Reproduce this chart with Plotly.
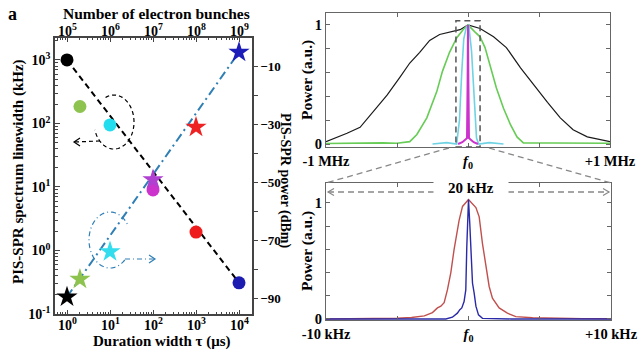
import numpy as np
import plotly.graph_objects as go

# ---------------- data: left panel ----------------
tau_us = [1, 2, 10, 100, 1000, 10000]
linewidth_khz = [1000, 185, 95, 9, 1.95, 0.31]
circle_colors = ["#000000", "#8DC34E", "#22DDEE", "#CC33CC", "#EE1C1C", "#1C1CB0"]

bunches = [1e5, 2e5, 1e6, 1e7, 1e8, 1e9]
power_dbm = [-89.5, -83.4, -73.9, -49.0, -30.9, -5.0]
star_colors = ["#000000", "#8DC34E", "#33DDEE", "#B040D0", "#EE2222", "#1C1CB8"]

fit_tau_us = [1, 10000]
fit_linewidth_khz = [1000, 0.31]
fit_bunches = [1e5, 1e9]
fit_power_dbm = [-89.5, -5.0]

tau_ticks = [1, 10, 100, 1000, 10000]
tau_ticktext = ["10<sup>0</sup>", "10<sup>1</sup>", "10<sup>2</sup>", "10<sup>3</sup>", "10<sup>4</sup>"]
bunch_ticks = [1e5, 1e6, 1e7, 1e8, 1e9]
bunch_ticktext = ["10<sup>5</sup>", "10<sup>6</sup>", "10<sup>7</sup>", "10<sup>8</sup>", "10<sup>9</sup>"]
lw_ticks = [0.1, 1, 10, 100, 1000]
lw_ticktext = ["10<sup>-1</sup>", "10<sup>0</sup>", "10<sup>1</sup>", "10<sup>2</sup>", "10<sup>3</sup>"]
dbm_ticks = [-90, -70, -50, -30, -10]
dbm_minor = [-80, -60, -40, -20]

# ---------------- data: top-right spectra (MHz) ----------------
f_black = [-1.0, -0.93, -0.852, -0.76, -0.69, -0.57, -0.48, -0.41, -0.34, -0.27, -0.20, -0.13, -0.056, 0.0,
           0.085, 0.18, 0.27, 0.37, 0.46, 0.56, 0.65, 0.74, 0.84, 0.98, 1.0]
p_black = [0.02, 0.05, 0.09, 0.14, 0.24, 0.41, 0.56, 0.68, 0.77, 0.87, 0.92, 0.94, 0.96, 1.0,
           0.97, 0.90, 0.81, 0.64, 0.50, 0.35, 0.22, 0.12, 0.06, 0.02, 0.02]
f_green = [-1.0, -0.8, -0.6, -0.5, -0.41, -0.36, -0.29, -0.22, -0.18, -0.13, -0.08, -0.035, 0.0,
           0.05, 0.085, 0.12, 0.155, 0.20, 0.25, 0.30, 0.345, 0.39, 0.6, 0.8, 1.0]
p_green = [0.005, 0.008, 0.01, 0.006, 0.02, 0.08, 0.22, 0.44, 0.61, 0.77, 0.89, 0.96, 1.0,
           0.94, 0.90, 0.81, 0.66, 0.47, 0.30, 0.16, 0.06, 0.01, 0.008, 0.01, 0.006]
f_cyan = [-0.25, -0.15, -0.08, -0.06, -0.045, -0.03, -0.012, 0.005, 0.025, 0.045, 0.06, 0.075, 0.15, 0.25]
p_cyan = [0.0, 0.012, 0.0, 0.2, 0.58, 0.88, 0.98, 1.0, 0.78, 0.33, 0.05, 0.0, 0.012, 0.0]
f_magenta = [-0.07, -0.04, -0.02, -0.007, -0.003, 0.0, 0.003, 0.007, 0.02, 0.04, 0.07]
p_magenta = [0.0, 0.015, 0.035, 0.05, 0.5, 1.0, 0.5, 0.05, 0.035, 0.015, 0.0]

# ---------------- data: bottom-right spectra (kHz) ----------------
f_red = [-10, -7, -5, -4, -3.1, -2.53, -2.18, -1.94, -1.71, -1.48, -1.24, -1.01, -0.85, -0.66, -0.42, 0.0,
         0.52, 0.75, 0.98, 1.22, 1.45, 1.68, 2.15, 2.73, 3.32, 4.5, 6, 8, 10]
p_red = [0.0, 0.002, 0.006, 0.012, 0.026, 0.055, 0.095, 0.11, 0.14, 0.25, 0.40, 0.60, 0.72, 0.85, 0.97, 1.03,
         0.96, 0.88, 0.65, 0.45, 0.28, 0.18, 0.095, 0.05, 0.02, 0.01, 0.005, 0.003, 0.002]
f_blue = [-10, -3, -1.59, -1.13, -0.78, -0.61, -0.47, -0.31, -0.19, -0.12, 0.0, 0.09, 0.16, 0.28, 0.40, 0.52,
          0.70, 0.98, 3, 10]
p_blue = [0.0, 0.0, 0.0, 0.015, 0.05, 0.08, 0.095, 0.15, 0.25, 0.62, 1.03, 0.82, 0.62, 0.31, 0.22, 0.11,
          0.035, 0.005, 0.0, 0.0]

mhz_ticks = [-1, 0, 1]
mhz_ticktext = ["-1 MHz", "<i>f</i><sub>0</sub>", "+1 MHz"]
khz_ticks = [-10, 0, 10]
khz_ticktext = ["-10 kHz", "<i>f</i><sub>0</sub>", "+10 kHz"]
pow_ticks = [0, 1]

W, H = 639, 352
def px(x):
    return x / W
def py(y):
    return 1 - y / H

FONT = "Liberation Serif"
AX = "#444444"
AX2 = "#666666"

fig = go.Figure()

# left panel fits and markers
fig.add_trace(go.Scatter(x=fit_tau_us, y=fit_linewidth_khz, mode="lines",
                         line=dict(color="black", width=2, dash="6px,4px"),
                         xaxis="x", yaxis="y", showlegend=False, hoverinfo="skip"))
fig.add_trace(go.Scatter(x=tau_us, y=linewidth_khz, mode="markers",
                         marker=dict(symbol="circle", size=13, color=circle_colors, line=dict(width=0)),
                         xaxis="x", yaxis="y", showlegend=False))
fig.add_trace(go.Scatter(x=fit_bunches, y=fit_power_dbm, mode="lines",
                         line=dict(color="#2F7FB5", width=2, dash="9px,4px,2px,4px"),
                         xaxis="x2", yaxis="y2", showlegend=False, hoverinfo="skip"))
fig.add_trace(go.Scatter(x=bunches, y=power_dbm, mode="markers",
                         marker=dict(symbol="star", size=16, color=star_colors, line=dict(width=0)),
                         xaxis="x2", yaxis="y2", showlegend=False))

# top-right spectra
fig.add_trace(go.Scatter(x=f_black, y=p_black, mode="lines", line=dict(color="#1a1a1a", width=1.2),
                         xaxis="x3", yaxis="y3", showlegend=False))
fig.add_trace(go.Scatter(x=f_green, y=p_green, mode="lines", line=dict(color="#66CC55", width=1.6),
                         xaxis="x3", yaxis="y3", showlegend=False))
fig.add_trace(go.Scatter(x=f_cyan, y=p_cyan, mode="lines", line=dict(color="#6FD3E3", width=1.6),
                         xaxis="x3", yaxis="y3", showlegend=False))
fig.add_trace(go.Scatter(x=f_magenta, y=p_magenta, mode="lines", line=dict(color="#CC33CC", width=2.0),
                         xaxis="x3", yaxis="y3", showlegend=False))

# bottom-right spectra
fig.add_trace(go.Scatter(x=f_red, y=p_red, mode="lines", line=dict(color="#C0504D", width=1.4),
                         xaxis="x4", yaxis="y4", showlegend=False))
fig.add_trace(go.Scatter(x=f_blue, y=p_blue, mode="lines", line=dict(color="#2A2AA8", width=1.4),
                         xaxis="x4", yaxis="y4", showlegend=False))

tickfont = dict(family=FONT, size=14, color="black", weight="bold")
rtickfont = dict(family=FONT, size=14.5, color="black", weight="bold")

common = dict(showgrid=False, zeroline=False, automargin=False)
rminor_y = dict(tickvals=[0.2, 0.4, 0.6, 0.8], ticks="inside", ticklen=4, tickcolor=AX2, showgrid=False)

fig.update_layout(
    template="none",
    width=W, height=H, margin=dict(l=0, r=0, t=0, b=0, pad=0),
    paper_bgcolor="white", plot_bgcolor="white",
    font=dict(family=FONT, size=14, color="black", weight="bold"),
    xaxis=dict(type="log", domain=[px(55), px(252)], range=[-0.279, 4.302], anchor="y",
               tickvals=tau_ticks, ticks="inside", ticklen=4, tickcolor=AX, showticklabels=False,
               minor=dict(dtick="D1", ticks="inside", ticklen=2, tickcolor=AX, showgrid=False),
               showline=True, linecolor=AX, linewidth=1.5, **common),
    xaxis2=dict(type="log", overlaying="x", side="top", range=[4.721, 9.302], anchor="y",
                tickvals=bunch_ticks, ticks="inside", ticklen=4, tickcolor=AX, showticklabels=False,
                minor=dict(dtick="D1", ticks="inside", ticklen=2, tickcolor=AX, showgrid=False),
                showline=True, linecolor=AX, linewidth=1.5, **common),
    yaxis=dict(type="log", domain=[py(314), py(38)], range=[-1.0, 3.346], anchor="x",
               tickvals=lw_ticks, ticktext=lw_ticktext, ticks="inside", ticklen=5, tickcolor=AX,
               minor=dict(dtick="D1", ticks="inside", ticklen=3, tickcolor=AX, showgrid=False),
               showline=True, linecolor=AX, linewidth=1.5, tickfont=tickfont, **common),
    yaxis2=dict(overlaying="y", side="right", range=[-95.4, -0.1], anchor="x",
                tickvals=dbm_ticks, ticks="outside", ticklen=4, tickcolor=AX,
                minor=dict(tickvals=dbm_minor, ticks="outside", ticklen=4, tickcolor=AX, showgrid=False),
                showline=True, linecolor=AX, linewidth=1.5,
                tickfont=dict(family=FONT, size=13, color="black", weight="bold"), **common),
    xaxis3=dict(domain=[px(326), px(610)], range=[-1, 1], anchor="y3",
                tickvals=mhz_ticks, ticktext=mhz_ticktext,
                ticks="inside", ticklen=4, tickcolor=AX2, mirror="ticks",
                minor=dict(tickvals=[-0.5, 0.5], ticks="inside", ticklen=4, tickcolor=AX2, showgrid=False),
                showline=True, linecolor=AX2, linewidth=1.3, tickfont=rtickfont, **common),
    yaxis3=dict(domain=[py(147), py(13)], range=[-0.025, 1.1], anchor="x3",
                tickvals=pow_ticks, ticks="inside", ticklen=4, tickcolor=AX2, mirror="ticks",
                minor=rminor_y,
                showline=True, linecolor=AX2, linewidth=1.3, tickfont=rtickfont, **common),
    xaxis4=dict(domain=[px(326), px(611)], range=[-10, 10], anchor="y4",
                tickvals=khz_ticks, ticktext=khz_ticktext,
                ticks="inside", ticklen=4, tickcolor=AX2, mirror="ticks",
                minor=dict(tickvals=[-5, 5], ticks="inside", ticklen=4, tickcolor=AX2, showgrid=False),
                showline=True, linecolor=AX2, linewidth=1.3, tickfont=rtickfont, **common),
    yaxis4=dict(domain=[py(320), py(183)], range=[-0.009, 1.172], anchor="x4",
                tickvals=pow_ticks, ticks="inside", ticklen=4, tickcolor=AX2, mirror="ticks",
                minor=rminor_y,
                showline=True, linecolor=AX2, linewidth=1.3, tickfont=rtickfont, **common),
)

# ---------- decorations ----------
def ellipse_path(cx, cy, rx, ry, a0, a1, n=80):
    th = np.radians(np.linspace(a0, a1, n))
    xs = cx + rx * np.cos(th)
    ys = cy + ry * np.sin(th)
    return "M " + " L ".join(f"{px(x):.5f},{py(y):.5f}" for x, y in zip(xs, ys))

def seg_path(pts):
    return "M " + " L ".join(f"{px(x):.5f},{py(y):.5f}" for x, y in pts)

shapes = []
# black dashed loop with left arrow
shapes.append(dict(type="path", xref="paper", yref="paper",
                   path=ellipse_path(114, 122, 20, 27, -115, 163),
                   line=dict(color="black", width=1.2, dash="4px,3px")))
shapes.append(dict(type="path", xref="paper", yref="paper",
                   path=seg_path([(100, 141), (74, 142)]),
                   line=dict(color="black", width=1.2, dash="4px,3px")))
shapes.append(dict(type="path", xref="paper", yref="paper",
                   path=seg_path([(80, 138), (74, 142), (80, 146)]),
                   line=dict(color="black", width=1.2)))
# blue dash-dot loop with right arrow
shapes.append(dict(type="path", xref="paper", yref="paper",
                   path=ellipse_path(110, 240, 21, 28, 45, 330),
                   line=dict(color="#2F7FB5", width=1.2, dash="5px,3px,1px,3px")))
shapes.append(dict(type="path", xref="paper", yref="paper",
                   path=seg_path([(125, 259), (155, 259)]),
                   line=dict(color="#2F7FB5", width=1.2, dash="5px,3px,1px,3px")))
shapes.append(dict(type="path", xref="paper", yref="paper",
                   path=seg_path([(149, 255), (155, 259), (149, 263)]),
                   line=dict(color="#2F7FB5", width=1.2)))
# zoom rectangle in top spectrum
shapes.append(dict(type="rect", xref="x3", yref="y3", x0=-0.085, x1=0.085, y0=-0.025, y1=1.034,
                   line=dict(color="#555555", width=1.5, dash="6px,4px")))
# connectors
shapes.append(dict(type="line", xref="paper", yref="paper", x0=px(449), y0=py(148), x1=px(326), y1=py(183),
                   line=dict(color="#888888", width=1.3, dash="6px,4px")))
shapes.append(dict(type="line", xref="paper", yref="paper", x0=px(489), y0=py(148), x1=px(611), y1=py(183),
                   line=dict(color="#888888", width=1.3, dash="6px,4px")))
# 20 kHz double arrow
shapes.append(dict(type="line", xref="paper", yref="paper", x0=px(328), y0=py(192), x1=px(609), y1=py(192),
                   line=dict(color="#888888", width=1.3, dash="6px,4px")))
shapes.append(dict(type="path", xref="paper", yref="paper",
                   path=seg_path([(334, 188.5), (328, 192), (334, 195.5)]),
                   line=dict(color="#888888", width=1.2)))
shapes.append(dict(type="path", xref="paper", yref="paper",
                   path=seg_path([(603, 188.5), (609, 192), (603, 195.5)]),
                   line=dict(color="#888888", width=1.2)))
fig.update_layout(shapes=shapes)

ann = []
def text(x, y, s, size=15, angle=0, **kw):
    d = dict(x=px(x), y=py(y), xref="paper", yref="paper", text=s, showarrow=False,
             xanchor="center", yanchor="middle", textangle=angle,
             font=dict(family=FONT, size=size, color="black", weight="bold"))
    d.update(kw)
    ann.append(d)

text(12, 14, "a", size=18)
text(156, 13, "Number of electron bunches", size=15.5)
text(162, 341, "Duration width τ (μs)", size=15)
text(18, 172, "PIS-SPR spectrum linewidth (kHz)", size=15, angle=-90)
text(285, 180, "PIS-SPR power (dBm)", size=14, angle=90)
text(307, 80, "Power (a.u.)", size=15.5, angle=-90)
text(307, 251, "Power (a.u.)", size=15.5, angle=-90)
text(471, 187, "20 kHz", size=15, bgcolor="white", width=72, height=17)
fig.update_layout(annotations=ann)

# top / bottom log-axis tick labels placed through their axes
for v, t in zip(bunch_ticks, bunch_ticktext):
    fig.add_annotation(x=np.log10(v), y=py(30), xref="x2", yref="paper", text=t, showarrow=False,
                       xanchor="center", yanchor="middle",
                       font=dict(family=FONT, size=14, color="black", weight="bold"))
for v, t in zip(tau_ticks, tau_ticktext):
    fig.add_annotation(x=np.log10(v), y=py(324), xref="x", yref="paper", text=t, showarrow=False,
                       xanchor="center", yanchor="middle",
                       font=dict(family=FONT, size=14, color="black", weight="bold"))

fig.write_html("out.html")
